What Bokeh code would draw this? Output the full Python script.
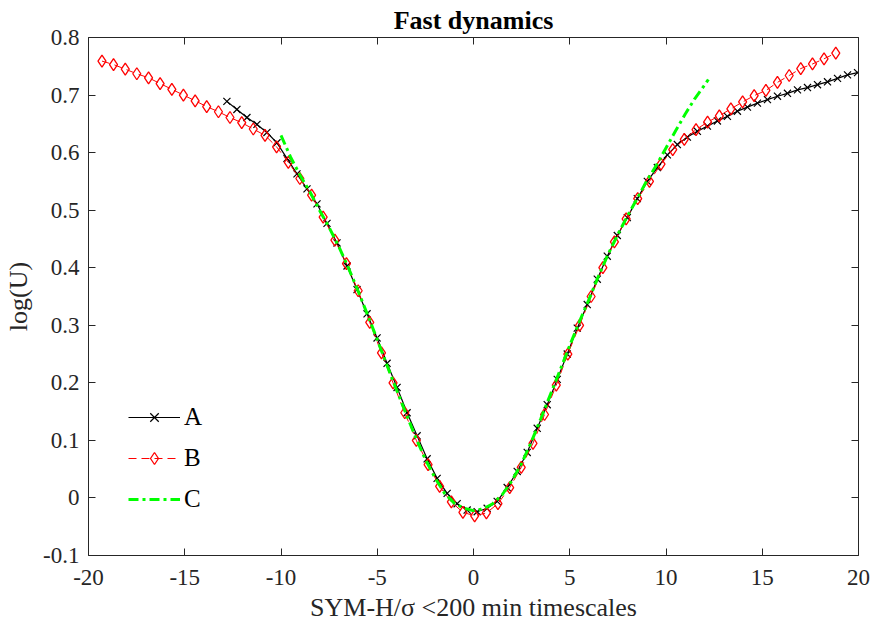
from bokeh.plotting import figure
from bokeh.models import Range1d, LinearAxis, FixedTicker, Legend, LegendItem
from bokeh.embed import file_html
from bokeh.resources import INLINE

# ---------------- data ----------------
x_ticks = [-20, -15, -10, -5, 0, 5, 10, 15, 20]
x_tick_labels = ["-20", "-15", "-10", "-5", "0", "5", "10", "15", "20"]
y_ticks = [-0.1, 0.0, 0.1, 0.2, 0.3, 0.4, 0.5, 0.6, 0.7, 0.8]
y_tick_labels = ["-0.1", "0", "0.1", "0.2", "0.3", "0.4", "0.5", "0.6", "0.7", "0.8"]

A_x = [-12.81, -12.29, -11.77, -11.25, -10.73, -10.21, -9.69, -9.17, -8.65, -8.13,
       -7.61, -7.09, -6.57, -6.05, -5.53, -5.01, -4.49, -3.97, -3.45, -2.93,
       -2.41, -1.89, -1.37, -0.85, -0.33, 0.19, 0.71, 1.23, 1.75, 2.27,
       2.79, 3.31, 3.83, 4.35, 4.87, 5.39, 5.91, 6.43, 6.95, 7.47,
       7.99, 8.51, 9.03, 9.55, 10.07, 10.59, 11.11, 11.63, 12.15, 12.67,
       13.19, 13.71, 14.23, 14.75, 15.27, 15.79, 16.31, 16.83, 17.35, 17.87,
       18.39, 18.91, 19.43, 19.95]
A_y = [0.689, 0.675, 0.661, 0.649, 0.635, 0.617, 0.590, 0.563, 0.537, 0.511,
       0.477, 0.443, 0.403, 0.362, 0.320, 0.278, 0.234, 0.192, 0.148, 0.108,
       0.068, 0.034, 0.008, -0.010, -0.021, -0.024, -0.018, -0.006, 0.018, 0.046,
       0.079, 0.121, 0.162, 0.206, 0.250, 0.295, 0.336, 0.380, 0.420, 0.456,
       0.487, 0.520, 0.550, 0.574, 0.596, 0.614, 0.627, 0.637, 0.646, 0.655,
       0.663, 0.672, 0.679, 0.686, 0.692, 0.698, 0.703, 0.709, 0.713, 0.718,
       0.723, 0.729, 0.735, 0.739]

B_x = [-19.30, -18.70, -18.09, -17.49, -16.88, -16.28, -15.67, -15.07, -14.46, -13.86,
       -13.25, -12.65, -12.04, -11.44, -10.83, -10.23, -9.62, -9.02, -8.41, -7.81,
       -7.20, -6.60, -5.99, -5.39, -4.78, -4.18, -3.57, -2.97, -2.36, -1.76,
       -1.15, -0.55, 0.06, 0.67, 1.27, 1.88, 2.48, 3.09, 3.69, 4.30,
       4.90, 5.51, 6.11, 6.72, 7.32, 7.93, 8.53, 9.14, 9.74, 10.35,
       10.95, 11.56, 12.16, 12.77, 13.37, 13.98, 14.58, 15.19, 15.79, 16.40,
       17.00, 17.61, 18.21, 18.82]
B_y = [0.759, 0.753, 0.745, 0.737, 0.730, 0.720, 0.710, 0.700, 0.690, 0.680,
       0.671, 0.661, 0.652, 0.641, 0.630, 0.610, 0.583, 0.555, 0.526, 0.488,
       0.448, 0.407, 0.360, 0.305, 0.252, 0.200, 0.148, 0.100, 0.058, 0.020,
       -0.007, -0.025, -0.031, -0.026, -0.010, 0.018, 0.053, 0.095, 0.145, 0.196,
       0.250, 0.300, 0.350, 0.400, 0.445, 0.485, 0.520, 0.550, 0.580, 0.605,
       0.623, 0.640, 0.653, 0.664, 0.676, 0.688, 0.699, 0.708, 0.722, 0.734,
       0.746, 0.754, 0.763, 0.773]

C_x = [-10.0, -9.5, -9.0, -8.5, -8.0, -7.5, -7.0, -6.5, -6.0, -5.5,
       -5.0, -4.5, -4.0, -3.5, -3.0, -2.5, -2.0, -1.5, -1.0, -0.5,
       0.0, 0.5, 1.0, 1.5, 2.0, 2.5, 3.0, 3.5, 4.0, 4.5,
       5.0, 5.5, 6.0, 6.5, 7.0, 7.5, 8.0, 8.5, 9.0, 9.5,
       10.0, 10.5, 11.0, 11.5, 12.0, 12.2]
C_y = [0.630, 0.592, 0.560, 0.532, 0.500, 0.470, 0.437, 0.400, 0.360, 0.318,
       0.275, 0.231, 0.188, 0.146, 0.105, 0.067, 0.035, 0.008, -0.009, -0.018,
       -0.022, -0.019, -0.010, 0.006, 0.030, 0.060, 0.097, 0.138, 0.180, 0.222,
       0.265, 0.306, 0.345, 0.386, 0.424, 0.458, 0.490, 0.520, 0.551, 0.578,
       0.608, 0.638, 0.667, 0.694, 0.717, 0.727]

series_names = ["A", "B", "C"]
title_text = "Fast dynamics"
x_label = "SYM-H/\u03c3 <200 min timescales"
y_label = "log(U)"

# ---------------- figure ----------------
FONT = "Liberation Serif"
AX = "#262626"

p = figure(width=874, height=624,
           x_range=Range1d(-20, 20), y_range=Range1d(-0.1, 0.8),
           output_backend="svg", toolbar_location=None,
           min_border_left=88, min_border_right=16,
           min_border_top=37, min_border_bottom=69)
p.xgrid.visible = False
p.ygrid.visible = False
p.outline_line_color = None
p.background_fill_color = "white"
p.border_fill_color = "white"

p.title.text = title_text
p.title.align = "center"
p.title.text_font = FONT
p.title.text_font_size = "26px"
p.title.text_font_style = "bold"
p.title.text_color = "black"
p.title.standoff = 6


def style_axis(ax, ticks, labels, show_labels):
    ax.ticker = FixedTicker(ticks=ticks)
    ax.major_label_overrides = {t: l for t, l in zip(ticks, labels)}
    ax.major_tick_in = 7
    ax.major_tick_out = 0
    ax.minor_tick_in = 0
    ax.minor_tick_out = 0
    ax.axis_line_color = AX
    ax.major_tick_line_color = AX
    ax.axis_line_width = 1
    ax.major_label_text_font = FONT
    ax.major_label_text_color = AX
    ax.axis_label_text_font = FONT
    ax.axis_label_text_font_style = "normal"
    ax.axis_label_text_color = AX
    if not show_labels:
        ax.major_label_text_font_size = "0px"
        ax.major_label_standoff = 0


xa = p.xaxis[0]
style_axis(xa, x_ticks, x_tick_labels, True)
xa.major_label_text_font_size = "23px"
xa.major_label_standoff = 14
xa.axis_label = x_label
xa.axis_label_text_font_size = "26px"
xa.axis_label_standoff = 5

ya = p.yaxis[0]
style_axis(ya, y_ticks, y_tick_labels, True)
ya.major_label_text_font_size = "23px"
ya.major_label_standoff = 9
ya.axis_label = y_label
ya.axis_label_text_font_size = "26px"
ya.axis_label_standoff = 7

top_ax = LinearAxis()
style_axis(top_ax, x_ticks, ["" for _ in x_ticks], False)
p.add_layout(top_ax, "above")
right_ax = LinearAxis()
style_axis(right_ax, y_ticks, ["" for _ in y_ticks], False)
p.add_layout(right_ax, "right")

# ---------------- series ----------------
ra_line = p.line(A_x, A_y, line_color="black", line_width=1.2)
ra_pts = p.scatter(A_x, A_y, marker="x", size=10, line_color="black", line_width=1.2)
rb_line = p.line(B_x, B_y, line_color="red", line_width=1, line_dash="8 5")
rb_pts = p.scatter(B_x, B_y, marker="diamond", size=12,
                   line_color="red", fill_color=None, line_width=1.3)
rc_line = p.line(C_x, C_y, line_color="#00ff00", line_width=3, line_dash="10 4 3 4")

legend = Legend(items=[
    LegendItem(label=series_names[0], renderers=[ra_line, ra_pts]),
    LegendItem(label=series_names[1], renderers=[rb_line, rb_pts]),
    LegendItem(label=series_names[2], renderers=[rc_line]),
], location=(40, 41), padding=0, margin=0, border_line_color=None,
    background_fill_alpha=0, glyph_width=52, glyph_height=30, label_height=30,
    spacing=11, label_standoff=4, label_text_font=FONT, label_text_font_size="25px",
    label_text_color="black")
p.add_layout(legend)

open("out.html", "w").write(file_html(p, INLINE))
